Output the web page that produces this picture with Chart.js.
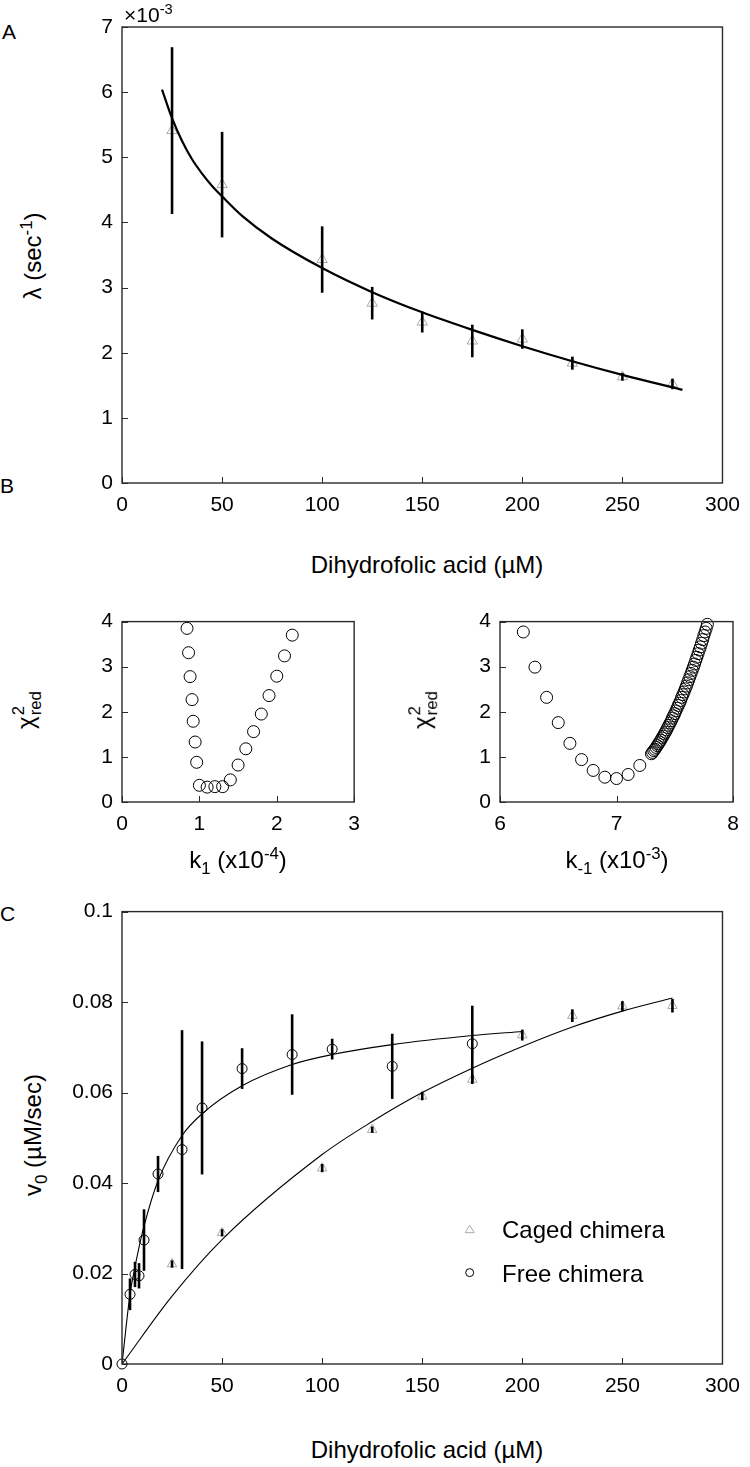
<!DOCTYPE html>
<html>
<head>
<meta charset="utf-8">
<script src="https://cdn.jsdelivr.net/npm/chart.js@4.4.0/dist/chart.umd.min.js"></script>
<style>
  body { margin:0; background:#fff; }
  #page { position:relative; width:750px; height:1467px; background:#fff; font-family:"Liberation Sans", Arial, sans-serif; color:#000; overflow:hidden; }
  canvas { position:absolute; }
  .t { position:absolute; white-space:nowrap; font-size:24px; line-height:1; transform:translate(-50%,-50%); }
  .rot { transform:translate(-50%,-50%) rotate(-90deg); }
  .pl { position:absolute; font-size:21px; line-height:1; }
  sup, sub { font-size:70%; line-height:0; }
  .ss { display:inline-flex; flex-direction:column; vertical-align:middle; font-size:70%; line-height:1; margin-left:1px; }
  .lg { position:absolute; font-size:24px; line-height:1; white-space:nowrap; transform:translateY(-50%); }
</style>
</head>
<body>
<div id="page">
  <canvas id="cA" width="690" height="530" style="left:60px;top:0px"></canvas>
  <canvas id="cB1" width="310" height="250" style="left:60px;top:600px"></canvas>
  <canvas id="cB2" width="310" height="250" style="left:440px;top:600px"></canvas>
  <canvas id="cC" width="690" height="530" style="left:60px;top:890px"></canvas>

  <div class="pl" style="left:2px;top:21px">A</div>
  <div class="pl" style="left:0px;top:475px">B</div>
  <div class="pl" style="left:0px;top:903px">C</div>
  <div class="pl" style="left:124px;top:4px">&times;10<sup>-3</sup></div>

  <div class="t rot" style="left:33px;top:256px">&lambda; (sec<sup>-1</sup>)</div>
  <div class="t" style="left:427px;top:565px">Dihydrofolic acid (&micro;M)</div>

  <div class="t rot" style="left:28px;top:710px">&chi;<span class="ss"><span>2</span><span>red</span></span></div>
  <div class="t rot" style="left:424px;top:710px">&chi;<span class="ss"><span>2</span><span>red</span></span></div>
  <div class="t" style="left:238px;top:860px">k<sub>1</sub> (x10<sup>-4</sup>)</div>
  <div class="t" style="left:617px;top:860px">k<sub>-1</sub> (x10<sup>-3</sup>)</div>

  <div class="t rot" style="left:33px;top:1135px">v<sub>0</sub> (&micro;M/sec)</div>
  <div class="t" style="left:427px;top:1450px">Dihydrofolic acid (&micro;M)</div>
  <div class="lg" style="left:502px;top:1230px">Caged chimera</div>
  <div class="lg" style="left:502px;top:1274px">Free chimera</div>
</div>
<script>
// ---- panel A: decay rate vs substrate (x10^-3 sec^-1)
var aConc = [25, 50, 100, 125, 150, 175, 200, 225, 250, 275];
var aRate = [5.41, 4.58, 3.43, 2.76, 2.47, 2.18, 2.21, 1.84, 1.63, 1.52];
var aErr  = [1.28, 0.81, 0.51, 0.25, 0.16, 0.25, 0.15, 0.10, 0.06, 0.08];
var aFitX = [20, 25, 30, 35, 40, 45, 50, 60, 75, 100, 125, 150, 175, 200, 225, 250, 280];
var aFitY = [6.04, 5.6, 5.25, 4.97, 4.75, 4.56, 4.4, 4.1, 3.75, 3.3, 2.93, 2.62, 2.35, 2.1, 1.87, 1.66, 1.43];
var aXTicks = [0, 50, 100, 150, 200, 250, 300];
var aYTicks = [0, 1, 2, 3, 4, 5, 6, 7];

// ---- panel B: reduced chi-square scans
var b1K = [0.84, 0.86, 0.88, 0.905, 0.92, 0.945, 0.965, 1.0, 1.1, 1.2, 1.3, 1.4, 1.5, 1.6, 1.7, 1.8, 1.9, 2.0, 2.1, 2.2];
var b1Chi = [3.85, 3.31, 2.78, 2.27, 1.79, 1.33, 0.88, 0.37, 0.33, 0.34, 0.34, 0.49, 0.82, 1.18, 1.56, 1.95, 2.36, 2.79, 3.24, 3.70];
var b2K = [6.2, 6.3, 6.4, 6.5, 6.6, 6.7, 6.8, 6.9, 7.0, 7.1, 7.2,
  7.30, 7.31, 7.32, 7.33, 7.34, 7.35, 7.36, 7.37, 7.38, 7.39,
  7.40, 7.41, 7.42, 7.43, 7.44, 7.45, 7.46, 7.47, 7.48, 7.49,
  7.50, 7.51, 7.52, 7.53, 7.54, 7.55, 7.56, 7.57, 7.58, 7.59,
  7.60, 7.61, 7.62, 7.63, 7.64, 7.65, 7.66, 7.67, 7.68, 7.69,
  7.70, 7.71, 7.72, 7.73, 7.74, 7.75, 7.76, 7.77, 7.78];
var b2Chi = [3.77, 2.99, 2.32, 1.76, 1.30, 0.94, 0.70, 0.55, 0.52, 0.61, 0.81,
  1.07, 1.10, 1.14, 1.17, 1.21, 1.25, 1.29, 1.33, 1.37, 1.42,
  1.46, 1.51, 1.55, 1.60, 1.65, 1.70, 1.75, 1.80, 1.86, 1.91,
  1.96, 2.02, 2.08, 2.14, 2.19, 2.25, 2.32, 2.38, 2.44, 2.51,
  2.57, 2.64, 2.71, 2.78, 2.85, 2.92, 2.99, 3.06, 3.14, 3.21,
  3.29, 3.37, 3.44, 3.52, 3.60, 3.69, 3.77, 3.85, 3.94];

// ---- panel C: initial velocity
var cagedX = [25, 50, 100, 125, 150, 175, 200, 225, 250, 275];
var cagedY = [0.0221, 0.0290, 0.0433, 0.0518, 0.0592, 0.0629, 0.0727, 0.0770, 0.0791, 0.0792];
var cagedE = [0.0008, 0.0008, 0.0009, 0.0007, 0.0009, 0.0010, 0.0012, 0.0014, 0.0011, 0.0015];
var cagedFitX = [0, 25, 50, 100, 125, 150, 175, 200, 225, 250, 275];
var cagedFitY = [0, 0.0150, 0.0275, 0.0463, 0.0536, 0.0600, 0.0654, 0.0702, 0.0745, 0.0780, 0.0809];
var freeX = [0, 4, 6.5, 8.5, 11, 18, 30, 40, 60, 85, 105, 135, 175];
var freeY = [0, 0.0154, 0.0198, 0.0195, 0.0274, 0.0420, 0.0474, 0.0566, 0.0653, 0.0684, 0.0696, 0.0658, 0.0708];
var freeE = [0, 0.0035, 0.0028, 0.0028, 0.0068, 0.0040, 0.0264, 0.0147, 0.0045, 0.0089, 0.0023, 0.0072, 0.0084];
var freeFitX = [0, 4, 6.5, 8.5, 11, 18, 30, 40, 60, 85, 105, 135, 175, 200];
var freeFitY = [0, 0.0154, 0.0215, 0.0258, 0.0305, 0.0405, 0.0505, 0.0553, 0.0615, 0.0662, 0.0684, 0.0706, 0.0726, 0.0735];
var cXTicks = [0, 50, 100, 150, 200, 250, 300];
var cYTicks = [0, 0.02, 0.04, 0.06, 0.08, 0.1];
var seriesNames = ['Caged chimera', 'Free chimera'];

var FONT = {family: '"Liberation Sans", Arial, sans-serif', size: 21};

function pts(xs, ys) { return xs.map(function(x, i){ return {x: x, y: ys[i]}; }); }
function bars(xs, ys, es, w) {
  var out = [];
  for (var i = 0; i < xs.length; i++) {
    if (!es[i]) continue;
    out.push({ data: [{x: xs[i], y: ys[i] - es[i]}, {x: xs[i], y: ys[i] + es[i]}],
      showLine: true, borderColor: '#000', borderWidth: w, pointRadius: 0, clip: false });
  }
  return out;
}

// frame box + inward ticks, as in the original figure
var frame = {
  id: 'frame',
  afterDraw: function(chart, args, opts) {
    var ctx = chart.ctx, a = chart.chartArea, sx = chart.scales.x, sy = chart.scales.y;
    ctx.save();
    ctx.strokeStyle = '#2a2a2a';
    ctx.lineWidth = 1;
    sx.ticks.forEach(function(t){
      var p = Math.round(sx.getPixelForValue(t.value)) + 0.5;
      ctx.beginPath(); ctx.moveTo(p, a.bottom); ctx.lineTo(p, a.bottom - 6); ctx.stroke();
    });
    sy.ticks.forEach(function(t){
      var p = Math.round(sy.getPixelForValue(t.value)) + 0.5;
      ctx.beginPath(); ctx.moveTo(a.left, p); ctx.lineTo(a.left + 6, p); ctx.stroke();
    });
    ctx.lineWidth = 1.4;
    ctx.strokeRect(a.left, a.top, a.right - a.left, a.bottom - a.top);
    if (opts && opts.legend) {
      var lx = a.left + (a.right - a.left) * 0.579;
      var ty = a.top + (a.bottom - a.top) * 0.702;
      var cy = a.top + (a.bottom - a.top) * 0.798;
      ctx.lineWidth = 1;
      ctx.strokeStyle = '#aaa';
      ctx.beginPath(); ctx.moveTo(lx, ty - 4); ctx.lineTo(lx + 4.5, ty + 3.5); ctx.lineTo(lx - 4.5, ty + 3.5); ctx.closePath(); ctx.stroke();
      ctx.strokeStyle = '#000';
      ctx.beginPath(); ctx.arc(lx, cy, 4, 0, Math.PI * 2); ctx.stroke();
    }
    ctx.restore();
  }
};

function axis(min, max, ticks, fit, isX, fmt) {
  return {
    type: 'linear', min: min, max: max,
    afterBuildTicks: function(s){ s.ticks = ticks.map(function(v){ return {value: v}; }); },
    afterFit: function(s){ if (isX) s.height = fit; else s.width = fit; },
    grid: { display: false, drawTicks: false },
    border: { display: false },
    ticks: { font: FONT, color: '#000', padding: isX ? 10 : 9, maxRotation: 0, autoSkip: false,
      callback: fmt || function(v){ return String(v); } }
  };
}

function base(pad, xs, ys, legend) {
  return {
    responsive: false, animation: false, devicePixelRatio: 1,
    layout: { padding: pad },
    plugins: { legend: { display: false }, tooltip: { enabled: false }, frame: { legend: !!legend } },
    scales: { x: xs, y: ys }
  };
}

// A
new Chart(document.getElementById('cA'), {
  type: 'scatter',
  plugins: [frame],
  data: { datasets: [
    { data: pts(aFitX, aFitY), showLine: true, borderColor: '#000', borderWidth: 2.2, pointRadius: 0, cubicInterpolationMode: 'monotone' }
  ].concat(bars(aConc, aRate, aErr, 2.6)).concat([
    { label: seriesNames[0], data: pts(aConc, aRate), pointStyle: 'triangle', pointRadius: 6, borderColor: '#aaa', backgroundColor: 'rgba(0,0,0,0)', borderWidth: 1 }
  ]) },
  options: base({top: 27, right: 18, left: 0, bottom: 0},
    axis(0, 300, aXTicks, 47, true), axis(0, 7, aYTicks, 62, false))
});

// B left
new Chart(document.getElementById('cB1'), {
  type: 'scatter',
  plugins: [frame],
  data: { datasets: [
    { data: pts(b1K, b1Chi), pointStyle: 'circle', pointRadius: 6, borderColor: '#000', backgroundColor: 'rgba(0,0,0,0)', borderWidth: 1, clip: false }
  ] },
  options: base({top: 19, right: 15, left: 0, bottom: 0},
    axis(0, 3, [0, 1, 2, 3], 48, true), axis(0, 4, [0, 1, 2, 3, 4], 62, false))
});

// B right
new Chart(document.getElementById('cB2'), {
  type: 'scatter',
  plugins: [frame],
  data: { datasets: [
    { data: pts(b2K, b2Chi), pointStyle: 'circle', pointRadius: 6, borderColor: '#000', backgroundColor: 'rgba(0,0,0,0)', borderWidth: 1, clip: false }
  ] },
  options: base({top: 19, right: 17, left: 0, bottom: 0},
    axis(6, 8, [6, 7, 8], 48, true), axis(0, 4, [0, 1, 2, 3, 4], 60, false))
});

// C
new Chart(document.getElementById('cC'), {
  type: 'scatter',
  plugins: [frame],
  data: { datasets: [
    { data: pts(freeFitX, freeFitY), showLine: true, borderColor: '#000', borderWidth: 1.1, pointRadius: 0, cubicInterpolationMode: 'monotone' },
    { data: pts(cagedFitX, cagedFitY), showLine: true, borderColor: '#000', borderWidth: 1.1, pointRadius: 0, cubicInterpolationMode: 'monotone' }
  ].concat(bars(freeX, freeY, freeE, 2.6)).concat(bars(cagedX, cagedY, cagedE, 2.6)).concat([
    { label: seriesNames[1], data: pts(freeX, freeY), pointStyle: 'circle', pointRadius: 5, borderColor: '#000', backgroundColor: 'rgba(0,0,0,0)', borderWidth: 1, clip: false },
    { label: seriesNames[0], data: pts(cagedX, cagedY), pointStyle: 'triangle', pointRadius: 5.5, borderColor: '#aaa', backgroundColor: 'rgba(0,0,0,0)', borderWidth: 1 }
  ]) },
  options: base({top: 18, right: 18, left: 0, bottom: 0},
    axis(0, 300, cXTicks, 56, true),
    axis(0, 0.1, cYTicks, 62, false, function(v){ return String(+v.toFixed(2)); }), true)
});
</script>
</body>
</html>
